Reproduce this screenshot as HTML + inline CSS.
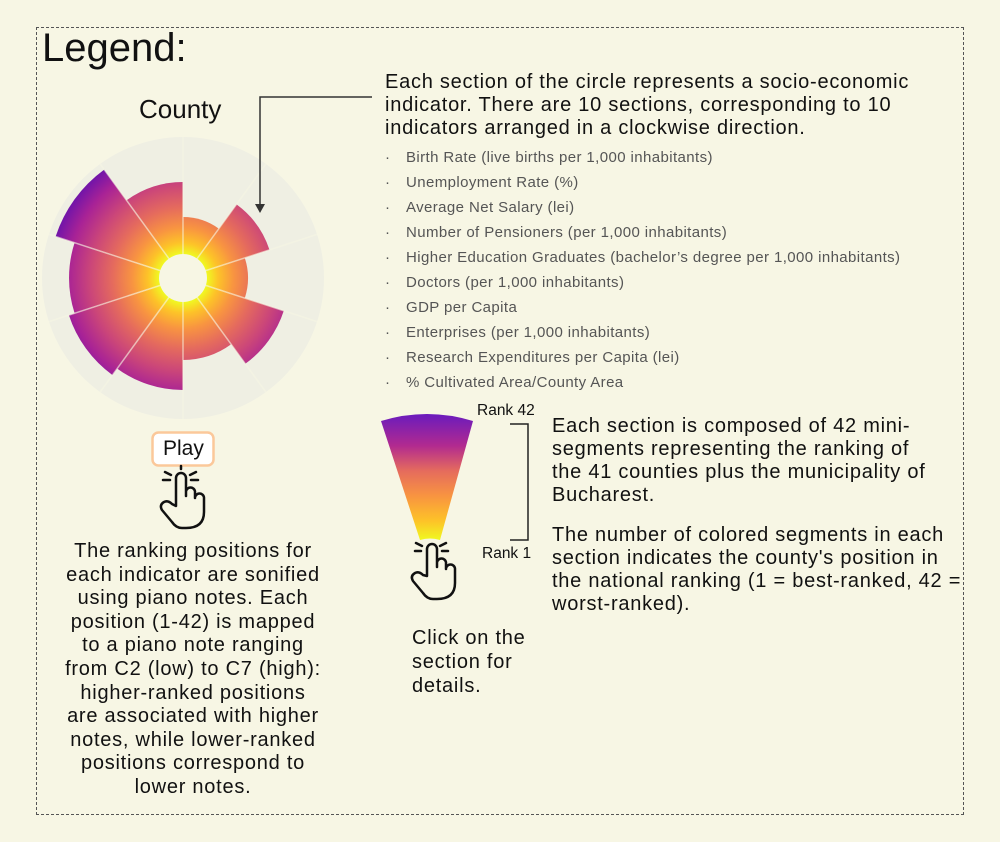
<!DOCTYPE html>
<html><head><meta charset="utf-8"><style>
body{margin:0;width:1000px;height:842px;background:#f7f6e4;position:relative;overflow:hidden;font-family:"Liberation Sans",sans-serif;color:#111}
.a{position:absolute;white-space:nowrap}
.m{font-size:20px;line-height:23px;letter-spacing:0.75px}
.li{font-size:15px;color:#555;line-height:25px;letter-spacing:0.4px}
.li span{display:inline-block;width:21px;padding-left:3px}
</style></head><body>
<div class="a" style="left:36px;top:27px;width:926px;height:786px;border:1px dashed #555"></div>
<div class="a" style="left:42px;top:26px;font-size:40px">Legend:</div>
<div class="a" style="left:139px;top:94px;font-size:26px">County</div>
<svg class="a" style="left:0;top:0" width="1000" height="842">
<defs>
<radialGradient id="g" gradientUnits="userSpaceOnUse" cx="183" cy="278" r="141">
<stop offset="0.17" stop-color="#f0f921"/><stop offset="0.25" stop-color="#fdc328"/><stop offset="0.36" stop-color="#f89441"/><stop offset="0.5" stop-color="#e56b5d"/><stop offset="0.66" stop-color="#cb4679"/><stop offset="0.82" stop-color="#a82296"/><stop offset="1" stop-color="#5c0fb0"/>
</radialGradient>
<linearGradient id="lg" x1="0" y1="1" x2="0" y2="0">
<stop offset="0" stop-color="#f0f921"/><stop offset="0.15" stop-color="#fdc328"/><stop offset="0.35" stop-color="#f89441"/><stop offset="0.55" stop-color="#e56b5d"/><stop offset="0.75" stop-color="#b12a90"/><stop offset="1" stop-color="#6a1bbd"/>
</linearGradient>
</defs>
<circle cx="183" cy="278" r="141" fill="#efefe3"/>
<g fill="url(#g)">
<path d="M183,278 L183,217 A61,61 0 0 1 218.9,228.7Z"/>
<path d="M183,278 L236.5,204.4 A91,91 0 0 1 269.5,249.9Z"/>
<path d="M183,278 L244.8,257.9 A65,65 0 0 1 244.8,298.1Z"/>
<path d="M183,278 L283.8,310.8 A106,106 0 0 1 245.3,363.8Z"/>
<path d="M183,278 L231.2,344.3 A82,82 0 0 1 183,360Z"/>
<path d="M183,278 L183,390 A112,112 0 0 1 117.2,368.6Z"/>
<path d="M183,278 L112.5,375.1 A120,120 0 0 1 68.9,315.1Z"/>
<path d="M183,278 L74.6,313.2 A114,114 0 0 1 74.6,242.8Z"/>
<path d="M183,278 L55.6,236.6 A134,134 0 0 1 104.2,169.6Z"/>
<path d="M183,278 L126.6,200.3 A96,96 0 0 1 183,182Z"/>
</g>
<g stroke="#f7f6e4" stroke-width="1.5" opacity="0.6">
<line x1="183" y1="278" x2="183" y2="137"/><line x1="183" y1="278" x2="265.9" y2="163.9"/><line x1="183" y1="278" x2="317.1" y2="234.4"/><line x1="183" y1="278" x2="317.1" y2="321.6"/><line x1="183" y1="278" x2="265.9" y2="392.1"/><line x1="183" y1="278" x2="183" y2="419"/><line x1="183" y1="278" x2="100.1" y2="392.1"/><line x1="183" y1="278" x2="48.9" y2="321.6"/><line x1="183" y1="278" x2="48.9" y2="234.4"/><line x1="183" y1="278" x2="100.1" y2="163.9"/>
</g>
<circle cx="183" cy="278" r="24" fill="#f7f6e4"/>
<polyline points="372,97 260,97 260,206" fill="none" stroke="#333" stroke-width="1.5"/>
<path d="M255,204 L265,204 L260,213Z" fill="#333"/>
<rect x="152.5" y="432.5" width="61" height="33" rx="6" fill="#fff" stroke="#fbc89a" stroke-width="2.5"/>
<g fill="none" stroke="#111" stroke-width="2.5" stroke-linecap="round" stroke-linejoin="round">
<path d="M176,506 L176,478 a5,5 0 0 1 10,0 L186,496 L186,492 a4.5,4.5 0 0 1 9,0 L195,498 a4.5,4.5 0 0 1 9,0 L204,512 q0,16 -18,16 L182,528 q-6,0 -10,-6 L162,510 q-3,-5 2,-8 q4,-2 8,2 Z"/>
<path d="M165,472 L171,475 M163,480 L170,480 M196,472 L190,475 M198,480 L191,480 M181,466 L181,469"/>
<path d="M427,576 L427,549 a5,5 0 0 1 10,0 L437,567 L437,563 a4.5,4.5 0 0 1 9,0 L446,569 a4.5,4.5 0 0 1 9,0 L455,583 q0,16 -18,16 L433,599 q-6,0 -10,-6 L413,581 q-3,-5 2,-8 q4,-2 8,2 Z"/>
<path d="M416,543 L422,546 M415,551 L421,551 M446,543 L440,546 M448,551 L442,551"/>
</g>
<path d="M420,540 L381,421 Q427,407 473,421 L440,540 Q430,537 420,540Z" fill="url(#lg)"/>
<polyline points="510,424 528,424 528,540 510,540" fill="none" stroke="#222" stroke-width="1.5"/>
</svg>
<div class="a" style="left:163px;top:437px;font-size:21px">Play</div>
<div class="a" style="left:477px;top:402px;font-size:15.5px">Rank 42</div>
<div class="a" style="left:482px;top:545px;font-size:15.5px">Rank 1</div>
<div class="a m" style="left:385px;top:71px">Each section of the circle represents a socio-economic<br>indicator. There are 10 sections, corresponding to 10<br>indicators arranged in a clockwise direction.</div>
<div class="a li" style="left:382px;top:145px">
<div><span>·</span>Birth Rate (live births per 1,000 inhabitants)</div>
<div><span>·</span>Unemployment Rate (%)</div>
<div><span>·</span>Average Net Salary (lei)</div>
<div><span>·</span>Number of Pensioners (per 1,000 inhabitants)</div>
<div><span>·</span>Higher Education Graduates (bachelor’s degree per 1,000 inhabitants)</div>
<div><span>·</span>Doctors (per 1,000 inhabitants)</div>
<div><span>·</span>GDP per Capita</div>
<div><span>·</span>Enterprises (per 1,000 inhabitants)</div>
<div><span>·</span>Research Expenditures per Capita (lei)</div>
<div><span>·</span>% Cultivated Area/County Area</div>
</div>
<div class="a m" style="left:552px;top:415px">Each section is composed of 42 mini-<br>segments representing the ranking of<br>the 41 counties plus the municipality of<br>Bucharest.</div>
<div class="a m" style="left:552px;top:524px">The number of colored segments in each<br>section indicates the county's position in<br>the national ranking (1 = best-ranked, 42 =<br>worst-ranked).</div>
<div class="a m" style="left:412px;top:626px;line-height:24px">Click on the<br>section for<br>details.</div>
<div class="a m" style="left:33px;top:540px;width:320px;text-align:center;line-height:23.6px">The ranking positions for<br>each indicator are sonified<br>using piano notes. Each<br>position (1-42) is mapped<br>to a piano note ranging<br>from C2 (low) to C7 (high):<br>higher-ranked positions<br>are associated with higher<br>notes, while lower-ranked<br>positions correspond to<br>lower notes.</div>
</body></html>
